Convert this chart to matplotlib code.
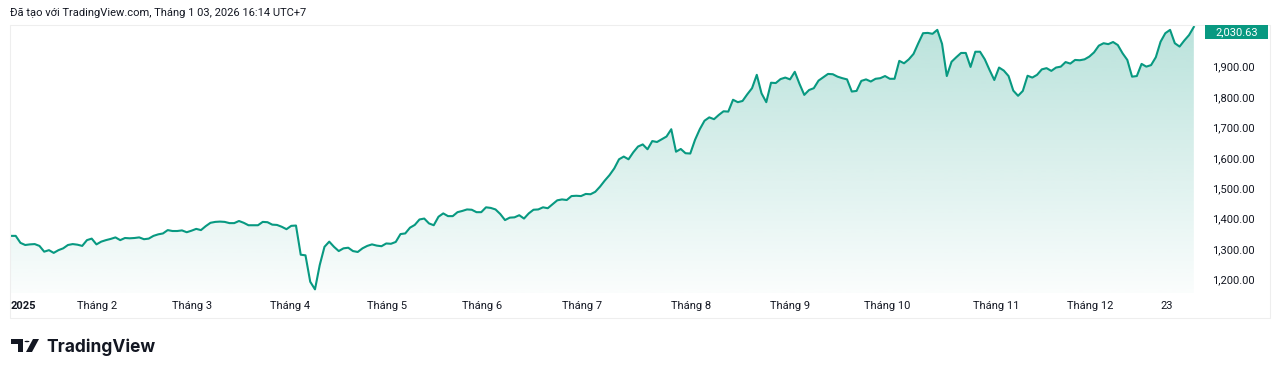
import matplotlib
matplotlib.use("Agg")
import matplotlib.pyplot as plt
import numpy as np
from matplotlib.colors import to_rgb
from matplotlib.patches import Rectangle, Polygon, Circle

# daily closes, 2025-01-02 .. 2026-01-03
closes = [
    1343, 1343, 1320, 1313, 1315, 1316, 1310, 1291, 1296, 1287,
    1296, 1302, 1313, 1316, 1314, 1310, 1329, 1334, 1315, 1324,
    1329, 1333, 1338, 1329, 1336, 1335, 1336, 1338, 1332, 1334,
    1343, 1348, 1351, 1362, 1359, 1359, 1361, 1355, 1360, 1366,
    1362, 1375, 1386, 1389, 1390, 1389, 1385, 1385, 1392, 1386,
    1378, 1378, 1378, 1389, 1388, 1380, 1379, 1373, 1365, 1376,
    1377,
    1281, 1279, 1192, 1167, 1247, 1307, 1324, 1307, 1293, 1302,
    1304, 1293, 1290, 1302, 1310, 1315, 1311, 1309, 1318, 1317,
    1323, 1349, 1351, 1370, 1379, 1397, 1400, 1384, 1378, 1406,
    1417, 1408, 1408, 1421, 1425, 1430, 1429, 1421, 1421, 1437,
    1435, 1430, 1415, 1395, 1403, 1404, 1411, 1400, 1417, 1429,
    1430, 1437, 1434, 1447, 1460, 1463, 1461, 1474, 1475, 1474,
    1481, 1480, 1488, 1505,
    1525, 1543, 1565, 1595, 1604, 1595, 1618, 1637, 1644, 1628,
    1655, 1652, 1661, 1670, 1694, 1620, 1629, 1615, 1614, 1659,
    1694, 1722, 1733, 1727, 1741, 1753, 1752, 1791, 1783, 1787,
    1809, 1829, 1873, 1812, 1783, 1847, 1846, 1859, 1864, 1858,
    1883, 1843, 1807, 1823, 1829, 1854, 1865, 1876, 1875, 1867,
    1862, 1858, 1818, 1820, 1853, 1858, 1851, 1860, 1862, 1869,
    1860, 1860,
    1919, 1911, 1924, 1942, 1977, 2010, 2011, 2008, 2021, 1975,
    1869, 1916, 1931, 1945, 1945, 1899, 1949, 1949, 1924, 1889,
    1856, 1897, 1887, 1869, 1821, 1804, 1820, 1870, 1864, 1873,
    1891, 1895, 1886, 1897, 1900, 1915, 1910, 1922, 1921, 1924,
    1933, 1947, 1969, 1977, 1974, 1981, 1971, 1944, 1922, 1867,
    1869, 1909, 1900, 1905, 1931, 1982, 2010, 2021, 1977, 1966,
    1986, 2004, 2030.63,
]

tick_pos = [2.7, 18.1, 38.1, 58.7, 79.2, 99.2, 120.2, 143.2, 164.0, 184.4, 207.4, 227.2, 243.2]
tick_labels = ["2025", "Tháng 2", "Tháng 3", "Tháng 4", "Tháng 5", "Tháng 6", "Tháng 7",
               "Tháng 8", "Tháng 9", "Tháng 10", "Tháng 11", "Tháng 12", "23"]
price_ticks = [1200, 1300, 1400, 1500, 1600, 1700, 1800, 1900]

title = "Đã tạo với TradingView.com, Tháng 1 03, 2026 16:14 UTC+7"
green = "#089981"
text_col = "#131722"

W, H = 1280, 374
plt.rcParams['font.family'] = ['Roboto', 'DejaVu Sans']

fig = plt.figure(figsize=(W / 100, H / 100), dpi=100)
fig.patch.set_facecolor("white")

def fx(px):
    return px / W

def fy(py):
    return 1 - py / H

# pane: x 10..1200 px, y 25..293 px
ax = fig.add_axes([fx(10), fy(293), fx(1200) - fx(10), fy(25) - fy(293)])
ymin, ymax = 1155, 2037
xmin, xmax = -0.2, 250.3

x = np.arange(len(closes))
ax.plot(x, closes, color=green, lw=1.5, zorder=3, solid_joinstyle="round")

# gradient under the line
fill = ax.fill_between(x, closes, ymin, color="none", lw=0)
n = 256
rgba = np.zeros((n, 1, 4))
rgba[..., :3] = to_rgb(green)
rgba[:, 0, 3] = np.linspace(0.28, 0.02, n)
im = ax.imshow(rgba, extent=[xmin, xmax, ymin, max(closes)], aspect="auto",
               origin="upper", zorder=1, interpolation="bilinear")
im.set_clip_path(fill.get_paths()[0], transform=ax.transData)

ax.set_xlim(xmin, xmax)
ax.set_ylim(ymin, ymax)
for s in ax.spines.values():
    s.set_visible(False)

ax.set_xticks(tick_pos)
ax.set_xticklabels(tick_labels, fontsize=8, color=text_col)
ax.get_xticklabels()[0].set_fontweight("bold")
ax.tick_params(axis="x", length=0, pad=6)

ax.yaxis.tick_right()
ax.set_yticks(price_ticks)
ax.set_yticklabels([f"{v:,.2f}" for v in price_ticks], fontsize=8, color=text_col)
ax.tick_params(axis="y", length=0, pad=9)

# outer frame
fig.add_artist(Rectangle((fx(10), fy(318)), fx(1270) - fx(10), fy(25) - fy(318),
                         transform=fig.transFigure, fill=False, ec="#eeeeee", lw=0.8))

# last price tag
fig.add_artist(Rectangle((fx(1205), fy(39)), fx(1268) - fx(1205), fy(25) - fy(39),
                         transform=fig.transFigure, fc=green, ec="none", zorder=5))
fig.text(fx(1236.5), fy(32), f"{closes[-1]:,.2f}", color="white", fontsize=8,
         ha="center", va="center", zorder=6)

# header
fig.text(fx(10), fy(13), title, fontsize=8, color=text_col, ha="left", va="center")

# footer logo
logo_col = "#131722"
fig.add_artist(Polygon([(fx(11), fy(339)), (fx(23), fy(339)), (fx(23), fy(352)),
                        (fx(18), fy(352)), (fx(18), fy(344)), (fx(11), fy(344))],
                       closed=True, transform=fig.transFigure, fc=logo_col, ec="none"))
fig.add_artist(Circle((fx(27), fy(341.5)), 2.5 / W, transform=fig.transFigure,
                      fc=logo_col, ec="none"))
fig.add_artist(Polygon([(fx(33), fy(339)), (fx(39), fy(339)), (fx(32), fy(352)),
                        (fx(26), fy(352))],
                       closed=True, transform=fig.transFigure, fc=logo_col, ec="none"))
fig.text(fx(46), fy(352), "TradingView", fontsize=12.5, fontweight="bold",
         color=logo_col, ha="left", va="baseline", family=["Inter", "Roboto", "DejaVu Sans"])

fig.savefig("out.png", dpi=100)
